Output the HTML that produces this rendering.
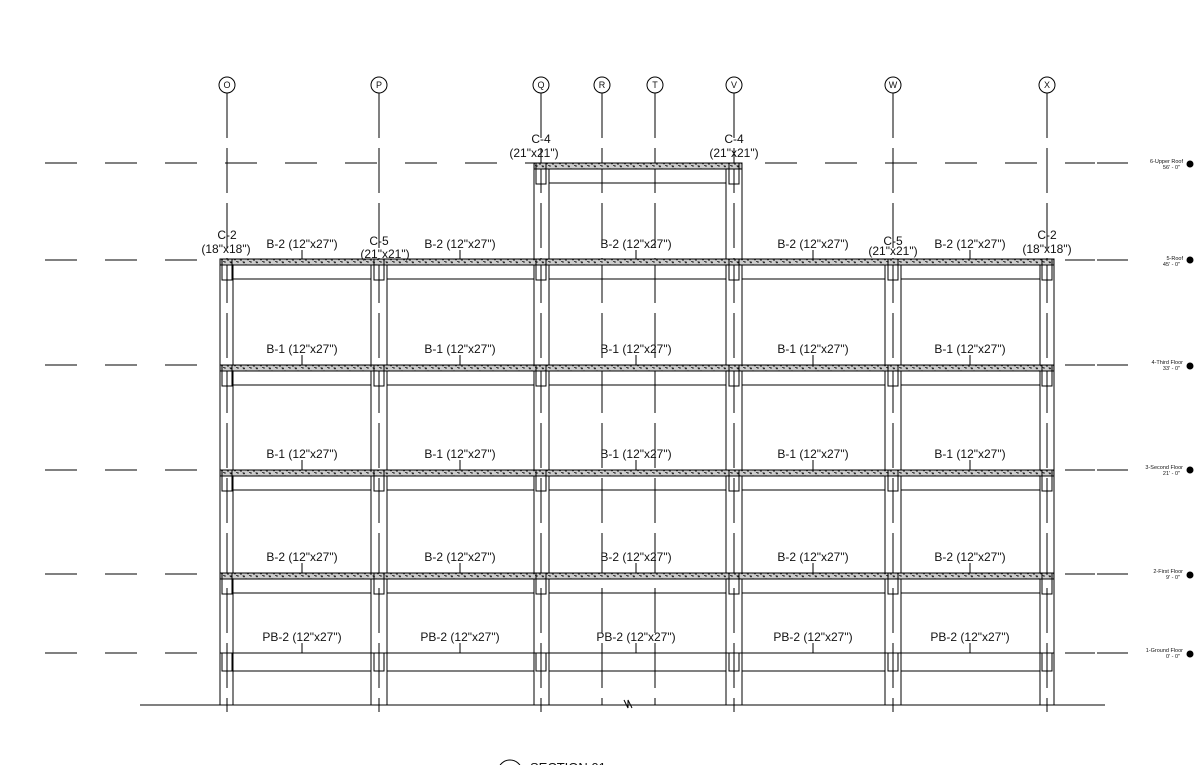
<!DOCTYPE html>
<html><head><meta charset="utf-8"><style>
html,body{margin:0;padding:0;background:#fff;}
svg{display:block;}
text{font-family:"Liberation Sans",sans-serif;fill:#111;}
</style></head><body>
<svg width="1203" height="765" viewBox="0 0 1203 765" xmlns="http://www.w3.org/2000/svg">
<defs>
<pattern id="h" width="13" height="6" patternUnits="userSpaceOnUse">
<rect width="13" height="6" fill="#ccc"/>
<circle cx="1" cy="1.5" r="0.9" fill="#111"/><circle cx="4" cy="4" r="0.8" fill="#222"/>
<circle cx="7" cy="2" r="0.8" fill="#111"/><circle cx="10" cy="4.5" r="0.9" fill="#111"/>
<circle cx="12" cy="1" r="0.7" fill="#333"/><rect x="5" y="0.8" width="2" height="0.8" fill="#111"/>
<rect x="8.5" y="3.5" width="2" height="0.8" fill="#111"/><rect x="2" y="3" width="1.5" height="0.8" fill="#222"/>
</pattern>
</defs>
<g stroke="#000" stroke-width="1" fill="none">
<g stroke-dasharray="32 28">
<line x1="45" y1="163" x2="1095" y2="163"/>
<line x1="45" y1="260" x2="1095" y2="260"/>
<line x1="45" y1="365" x2="1095" y2="365"/>
<line x1="45" y1="470" x2="1095" y2="470"/>
<line x1="45" y1="574" x2="1095" y2="574"/>
<line x1="45" y1="653" x2="1095" y2="653"/>
</g>
<line x1="1097" y1="163" x2="1128" y2="163"/><line x1="1097" y1="260" x2="1128" y2="260"/>
<line x1="1097" y1="365" x2="1128" y2="365"/><line x1="1097" y1="470" x2="1128" y2="470"/>
<line x1="1097" y1="574" x2="1128" y2="574"/><line x1="1097" y1="653" x2="1128" y2="653"/>
<g fill="#fff">
<circle cx="227" cy="85" r="8"/><circle cx="379" cy="85" r="8"/><circle cx="541" cy="85" r="8"/>
<circle cx="602" cy="85" r="8"/><circle cx="655" cy="85" r="8"/><circle cx="734" cy="85" r="8"/>
<circle cx="893" cy="85" r="8"/><circle cx="1047" cy="85" r="8"/>
</g>
<g stroke-dasharray="45 10">
<line x1="227" y1="93" x2="227" y2="712"/><line x1="379" y1="93" x2="379" y2="712"/>
<line x1="541" y1="93" x2="541" y2="712"/><line x1="602" y1="93" x2="602" y2="705"/>
<line x1="655" y1="93" x2="655" y2="705"/><line x1="734" y1="93" x2="734" y2="712"/>
<line x1="893" y1="93" x2="893" y2="712"/><line x1="1047" y1="93" x2="1047" y2="712"/>
</g>
<line x1="220" y1="259" x2="220" y2="705"/><line x1="233" y1="259" x2="233" y2="705"/>
<line x1="371" y1="259" x2="371" y2="705"/><line x1="387" y1="259" x2="387" y2="705"/>
<line x1="534" y1="163" x2="534" y2="705"/><line x1="549" y1="163" x2="549" y2="705"/>
<line x1="726" y1="163" x2="726" y2="705"/><line x1="742" y1="163" x2="742" y2="705"/>
<line x1="885" y1="259" x2="885" y2="705"/><line x1="901" y1="259" x2="901" y2="705"/>
<line x1="1040" y1="259" x2="1040" y2="705"/><line x1="1054" y1="259" x2="1054" y2="705"/>
<line x1="140" y1="705" x2="1105" y2="705"/>
<rect x="534" y="163" width="208" height="6" fill="url(#h)"/>
<line x1="549" y1="183" x2="726" y2="183"/>
<rect x="536" y="163" width="10" height="21"/><rect x="729" y="163" width="10" height="21"/>
<g id="lv">
<rect x="220" y="259" width="834" height="6" fill="url(#h)"/>
<path d="M233 279H371M387 279H534M549 279H726M742 279H885M901 279H1040"/>
<rect x="222" y="259" width="10" height="21"/><rect x="374" y="259" width="10" height="21"/>
<rect x="536" y="259" width="10" height="21"/><rect x="729" y="259" width="10" height="21"/>
<rect x="888" y="259" width="10" height="21"/><rect x="1042" y="259" width="10" height="21"/>
</g>
<use href="#lv" y="106"/>
<use href="#lv" y="211"/>
<use href="#lv" y="314"/>
<path d="M220 653H1054M233 671H371M387 671H534M549 671H726M742 671H885M901 671H1040"/>
<rect x="222" y="653" width="10" height="18"/><rect x="374" y="653" width="10" height="18"/>
<rect x="536" y="653" width="10" height="18"/><rect x="729" y="653" width="10" height="18"/>
<rect x="888" y="653" width="10" height="18"/><rect x="1042" y="653" width="10" height="18"/>
<path d="M302 250V259M460 250V259M636 250V259M813 250V259M970 250V259"/>
<path d="M302 355V365M460 355V365M636 355V365M813 355V365M970 355V365"/>
<path d="M302 460V470M460 460V470M636 460V470M813 460V470M970 460V470"/>
<path d="M302 563V573M460 563V573M636 563V573M813 563V573M970 563V573"/>
<path d="M302 643V653M460 643V653M636 643V653M813 643V653M970 643V653"/>
<circle cx="510" cy="772" r="12"/>
<path d="M624 700l4 8 0-8 4 8"/>
</g>
<g font-size="9" text-anchor="middle">
<text x="227" y="88">O</text><text x="379" y="88">P</text><text x="541" y="88">Q</text>
<text x="602" y="88">R</text><text x="655" y="88">T</text><text x="734" y="88">V</text>
<text x="893" y="88">W</text><text x="1047" y="88">X</text>
</g>
<g font-size="12" text-anchor="middle">
<text x="541" y="143">C-4</text><text x="534" y="157">(21"x21")</text>
<text x="734" y="143">C-4</text><text x="734" y="157">(21"x21")</text>
<text x="227" y="239">C-2</text><text x="226" y="253">(18"x18")</text>
<text x="379" y="245">C-5</text><text x="385" y="258">(21"x21")</text>
<text x="893" y="245">C-5</text><text x="893" y="255">(21"x21")</text>
<text x="1047" y="239">C-2</text><text x="1047" y="253">(18"x18")</text>
</g>
<g font-size="12" text-anchor="middle">
<text x="302" y="248">B-2 (12"x27")</text><text x="460" y="248">B-2 (12"x27")</text><text x="636" y="248">B-2 (12"x27")</text><text x="813" y="248">B-2 (12"x27")</text><text x="970" y="248">B-2 (12"x27")</text>
<text x="302" y="353">B-1 (12"x27")</text><text x="460" y="353">B-1 (12"x27")</text><text x="636" y="353">B-1 (12"x27")</text><text x="813" y="353">B-1 (12"x27")</text><text x="970" y="353">B-1 (12"x27")</text>
<text x="302" y="458">B-1 (12"x27")</text><text x="460" y="458">B-1 (12"x27")</text><text x="636" y="458">B-1 (12"x27")</text><text x="813" y="458">B-1 (12"x27")</text><text x="970" y="458">B-1 (12"x27")</text>
<text x="302" y="561">B-2 (12"x27")</text><text x="460" y="561">B-2 (12"x27")</text><text x="636" y="561">B-2 (12"x27")</text><text x="813" y="561">B-2 (12"x27")</text><text x="970" y="561">B-2 (12"x27")</text>
<text x="302" y="641">PB-2 (12"x27")</text><text x="460" y="641">PB-2 (12"x27")</text><text x="636" y="641">PB-2 (12"x27")</text><text x="813" y="641">PB-2 (12"x27")</text><text x="970" y="641">PB-2 (12"x27")</text>
</g>
<g font-size="5.5" text-anchor="end">
<text x="1183" y="163">6-Upper Roof</text><text x="1180" y="169">56' - 0"</text>
<text x="1183" y="260">5-Roof</text><text x="1180" y="266">45' - 0"</text>
<text x="1183" y="364">4-Third Floor</text><text x="1180" y="370">33' - 0"</text>
<text x="1183" y="469">3-Second Floor</text><text x="1180" y="475">21' - 0"</text>
<text x="1183" y="573">2-First Floor</text><text x="1180" y="579">9' - 0"</text>
<text x="1183" y="652">1-Ground Floor</text><text x="1180" y="658">0' - 0"</text>
</g>
<g fill="#000">
<circle cx="1190" cy="164" r="3.5"/><circle cx="1190" cy="260" r="3.5"/><circle cx="1190" cy="366" r="3.5"/>
<circle cx="1190" cy="470" r="3.5"/><circle cx="1190" cy="575" r="3.5"/><circle cx="1190" cy="654" r="3.5"/>
</g>
<text x="530" y="772" font-size="13">SECTION 01</text>
</svg>
</body></html>
